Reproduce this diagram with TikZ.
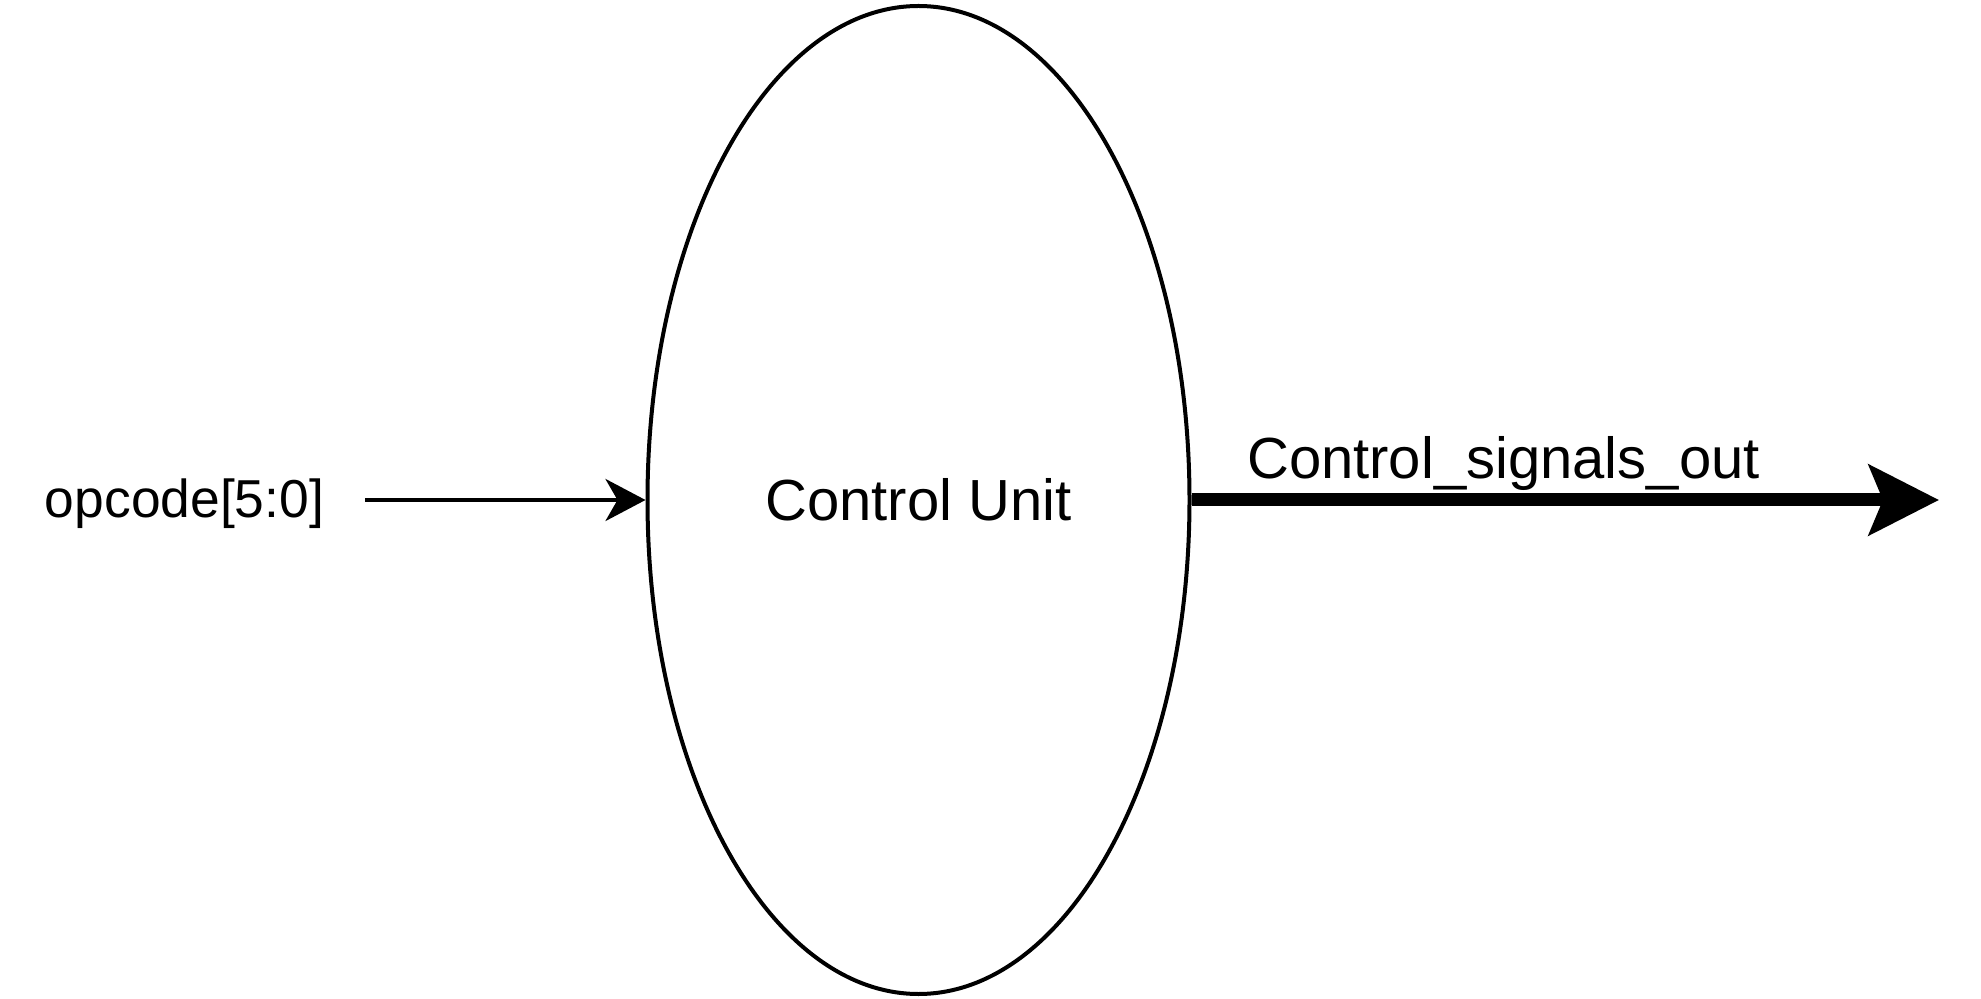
\documentclass[tikz,border=0pt]{standalone}
\usepackage{fontspec}
\setmainfont{Liberation Sans}
\usetikzlibrary{arrows.meta,shapes.geometric,positioning}
\tikzstyle{every node}=[inner sep=0pt]

\begin{document}
\begin{tikzpicture}[x=0.5pt,y=-0.5pt]
\tikzset{unit/.style={draw,ellipse,line width=2pt,minimum width=271pt,minimum height=494pt,font=\fontsize{29}{35}\selectfont},
sig/.style={font=\fontsize{29}{35}\selectfont,anchor=base},
inwire/.style={line width=2pt,-{Stealth[length=20pt,width=21pt,inset=6pt]}},
outbus/.style={line width=6.5pt,-{Stealth[length=35pt,width=35pt,inset=7pt]}}}
\useasboundingbox (0,0) rectangle (1981,999);

\node[unit](cu) at (918.5,500){Control Unit};
\node[sig,font=\fontsize{26.7}{32}\selectfont](op) at (184.5,518){opcode[5:0]};
\coordinate (opEnd) at (365,500);
\coordinate (sigEnd) at (1939,500);
\node[sig](out) at (1503.5,479){Control\_signals\_out};

\draw[inwire] (opEnd) -- (cu.west);
\draw[outbus] (cu.east) -- (sigEnd);

\end{tikzpicture}
\end{document}
